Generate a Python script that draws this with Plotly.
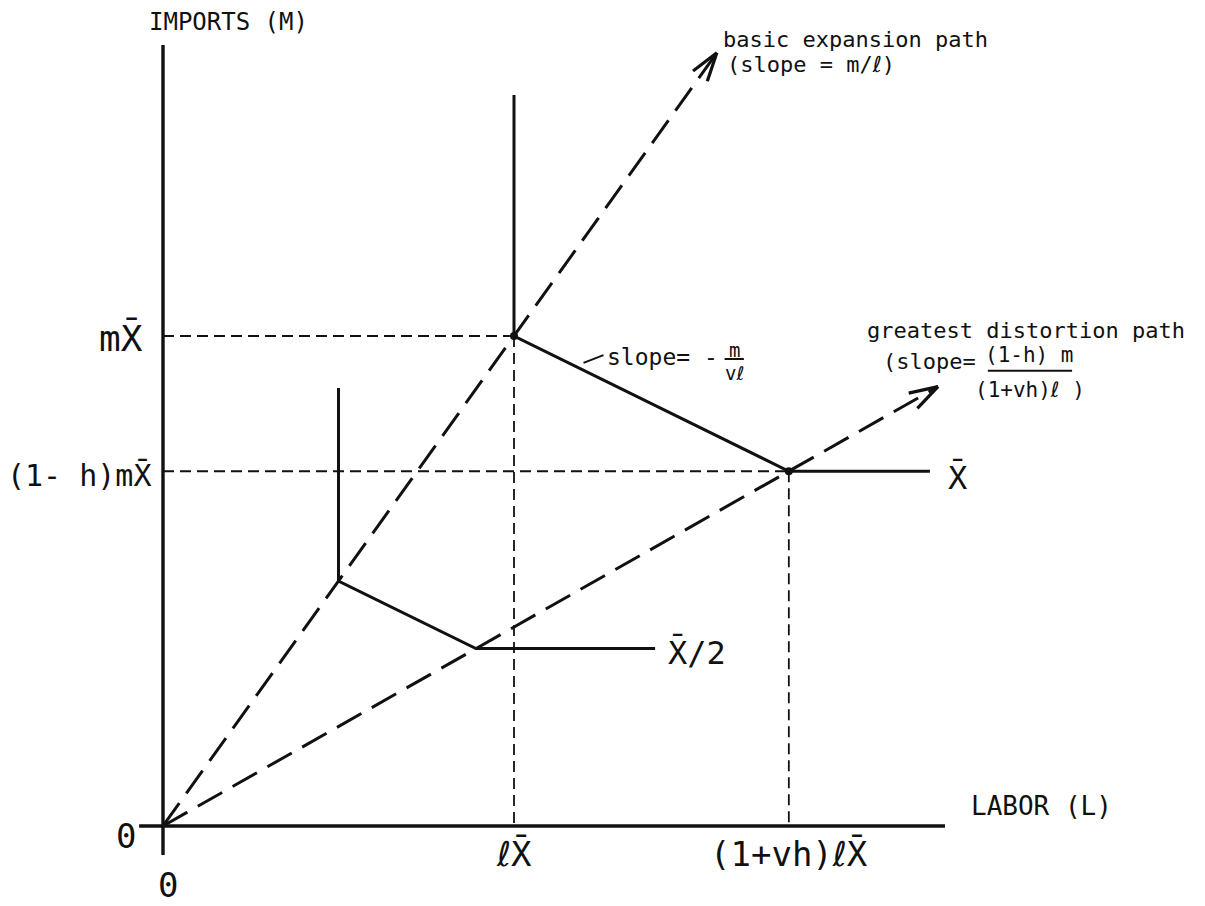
import math
import plotly.graph_objects as go

# Coordinates: labour L in units of lX̄, imports M in units of mX̄
L_TICKS = [1.0, 1.783]                 # lX̄, (1+vh)lX̄
L_TICK_TEXT = ["ℓX\u0304", "(1+vh)ℓX\u0304"]
M_TICKS = [1.0, 0.724]                 # mX̄, (1-h)mX̄
M_TICK_TEXT = ["mX\u0304", "(1- h)mX\u0304"]

# Expansion paths: end of the drawn ray (L value) and slope
BASIC_END_L = 1.578
BASIC_SLOPE = 1.0
DISTORT_END_L = 2.208
DISTORT_SLOPE = M_TICKS[1] / L_TICKS[1]

# Isoquants: vertical arm top, kinks, end of horizontal arm
ISO_FULL_L = [1.0, 1.0, 1.783, 2.185]
ISO_FULL_M = [1.492, 1.0, 0.724, 0.724]
ISO_HALF_L = [0.5, 0.5, 0.8915, 1.402]
ISO_HALF_M = [0.894, 0.5, 0.362, 0.362]

# Axis extents
L_AXIS = [-0.068, 2.228]
M_AXIS = [-0.059, 1.594]

W, H = 1205, 906
X_RANGE = [-0.4644, 2.9687]
Y_RANGE = [-0.1633, 1.6857]
PX_X = W / (X_RANGE[1] - X_RANGE[0])
PX_Y = H / (Y_RANGE[1] - Y_RANGE[0])

FONT = "DejaVu Sans Mono, DejaVu Sans, sans-serif"
INK = "#111111"

fig = go.Figure()


def line(xs, ys, width=3, dash="solid"):
    fig.add_trace(go.Scatter(x=xs, y=ys, mode="lines",
                             line=dict(color=INK, width=width, dash=dash),
                             hoverinfo="skip", showlegend=False))


def arrow_head(x_tip, y_tip, slope, length=30, half_angle=17):
    # two barbs drawn back from the tip, sized in screen pixels
    ang = math.atan2(slope * PX_Y, PX_X)
    back = ang + math.pi
    for s in (-1, 1):
        a = back + s * math.radians(half_angle)
        bx = x_tip + length * math.cos(a) / PX_X
        by = y_tip + length * math.sin(a) / PX_Y
        line([bx, x_tip], [by, y_tip], width=3.2)


# axes
line(L_AXIS, [0, 0], width=3.4)
line([0, 0], M_AXIS, width=3.4)

# dashed guides from the kinks to the axes
for lt, mt in zip(L_TICKS, M_TICKS):
    line([0, lt], [mt, mt], width=1.8, dash="11px,6px")
    line([lt, lt], [mt, 0], width=1.8, dash="11px,6px")

# expansion paths
line([0, BASIC_END_L], [0, BASIC_END_L * BASIC_SLOPE], width=3, dash="28px,12px")
arrow_head(BASIC_END_L, BASIC_END_L * BASIC_SLOPE, BASIC_SLOPE)
line([0, DISTORT_END_L], [0, DISTORT_END_L * DISTORT_SLOPE], width=3, dash="28px,12px")
arrow_head(DISTORT_END_L, DISTORT_END_L * DISTORT_SLOPE, DISTORT_SLOPE)

# isoquants
line(ISO_FULL_L, ISO_FULL_M, width=3)
line(ISO_HALF_L, ISO_HALF_M, width=3)
fig.add_trace(go.Scatter(x=ISO_FULL_L[1:3], y=ISO_FULL_M[1:3], mode="markers",
                         marker=dict(color=INK, size=8),
                         hoverinfo="skip", showlegend=False))


def label(x, y, text, size, xanchor="center", yanchor="middle"):
    fig.add_annotation(x=x, y=y, xref="x", yref="y", text=text, showarrow=False,
                       xanchor=xanchor, yanchor=yanchor,
                       font=dict(family=FONT, size=size, color=INK))


def rule(x0, x1, y0, y1, width=2):
    fig.add_shape(type="line", x0=x0, x1=x1, y0=y0, y1=y1, xref="x", yref="y",
                  line=dict(color=INK, width=width))


# axis titles
label(-0.045, 1.641, "IMPORTS (M)", 24, xanchor="left")
label(2.295, 0.04, "LABOR (L)", 26, xanchor="left")

# origin labels
label(-0.105, -0.02, "0", 34)
label(0.015, -0.12, "0", 34)

# tick labels
label(-0.05, M_TICKS[0] - 0.005, M_TICK_TEXT[0], 36, xanchor="right")
label(-0.025, M_TICKS[1] - 0.008, M_TICK_TEXT[1], 30, xanchor="right")
for lt, txt in zip(L_TICKS, L_TICK_TEXT):
    label(lt, -0.058, txt, 34)

# isoquant labels
label(ISO_FULL_L[-1] + 0.045, ISO_FULL_M[-1] - 0.012, "X\u0304", 32, xanchor="left")
label(ISO_HALF_L[-1] + 0.03, ISO_HALF_M[-1] - 0.008, "X\u0304/2", 32, xanchor="left")

# path labels
label(1.59, 1.605, "basic expansion path", 22, xanchor="left")
label(1.6, 1.555, "(slope = m/ℓ)", 22, xanchor="left")
label(2.0, 1.012, "greatest distortion path", 22, xanchor="left")
label(2.045, 0.947, "(slope=", 22, xanchor="left")
label(2.47, 0.962, "(1-h) m", 21)
label(2.47, 0.889, "(1+vh)ℓ )", 21)
rule(2.35, 2.59, 0.929, 0.929)

# slope of the isoquant segment
rule(1.198, 1.255, 0.945, 0.961)
label(1.258, 0.957, "slope= -", 23, xanchor="left")
label(1.628, 0.972, "m", 19)
label(1.628, 0.925, "vℓ", 19)
rule(1.6, 1.655, 0.953, 0.953)

fig.update_layout(
    width=W, height=H,
    margin=dict(l=0, r=0, t=0, b=0),
    paper_bgcolor="white", plot_bgcolor="white",
    xaxis=dict(range=X_RANGE, visible=False, fixedrange=True),
    yaxis=dict(range=Y_RANGE, visible=False, fixedrange=True),
    showlegend=False,
)

fig.write_html("out.html")
